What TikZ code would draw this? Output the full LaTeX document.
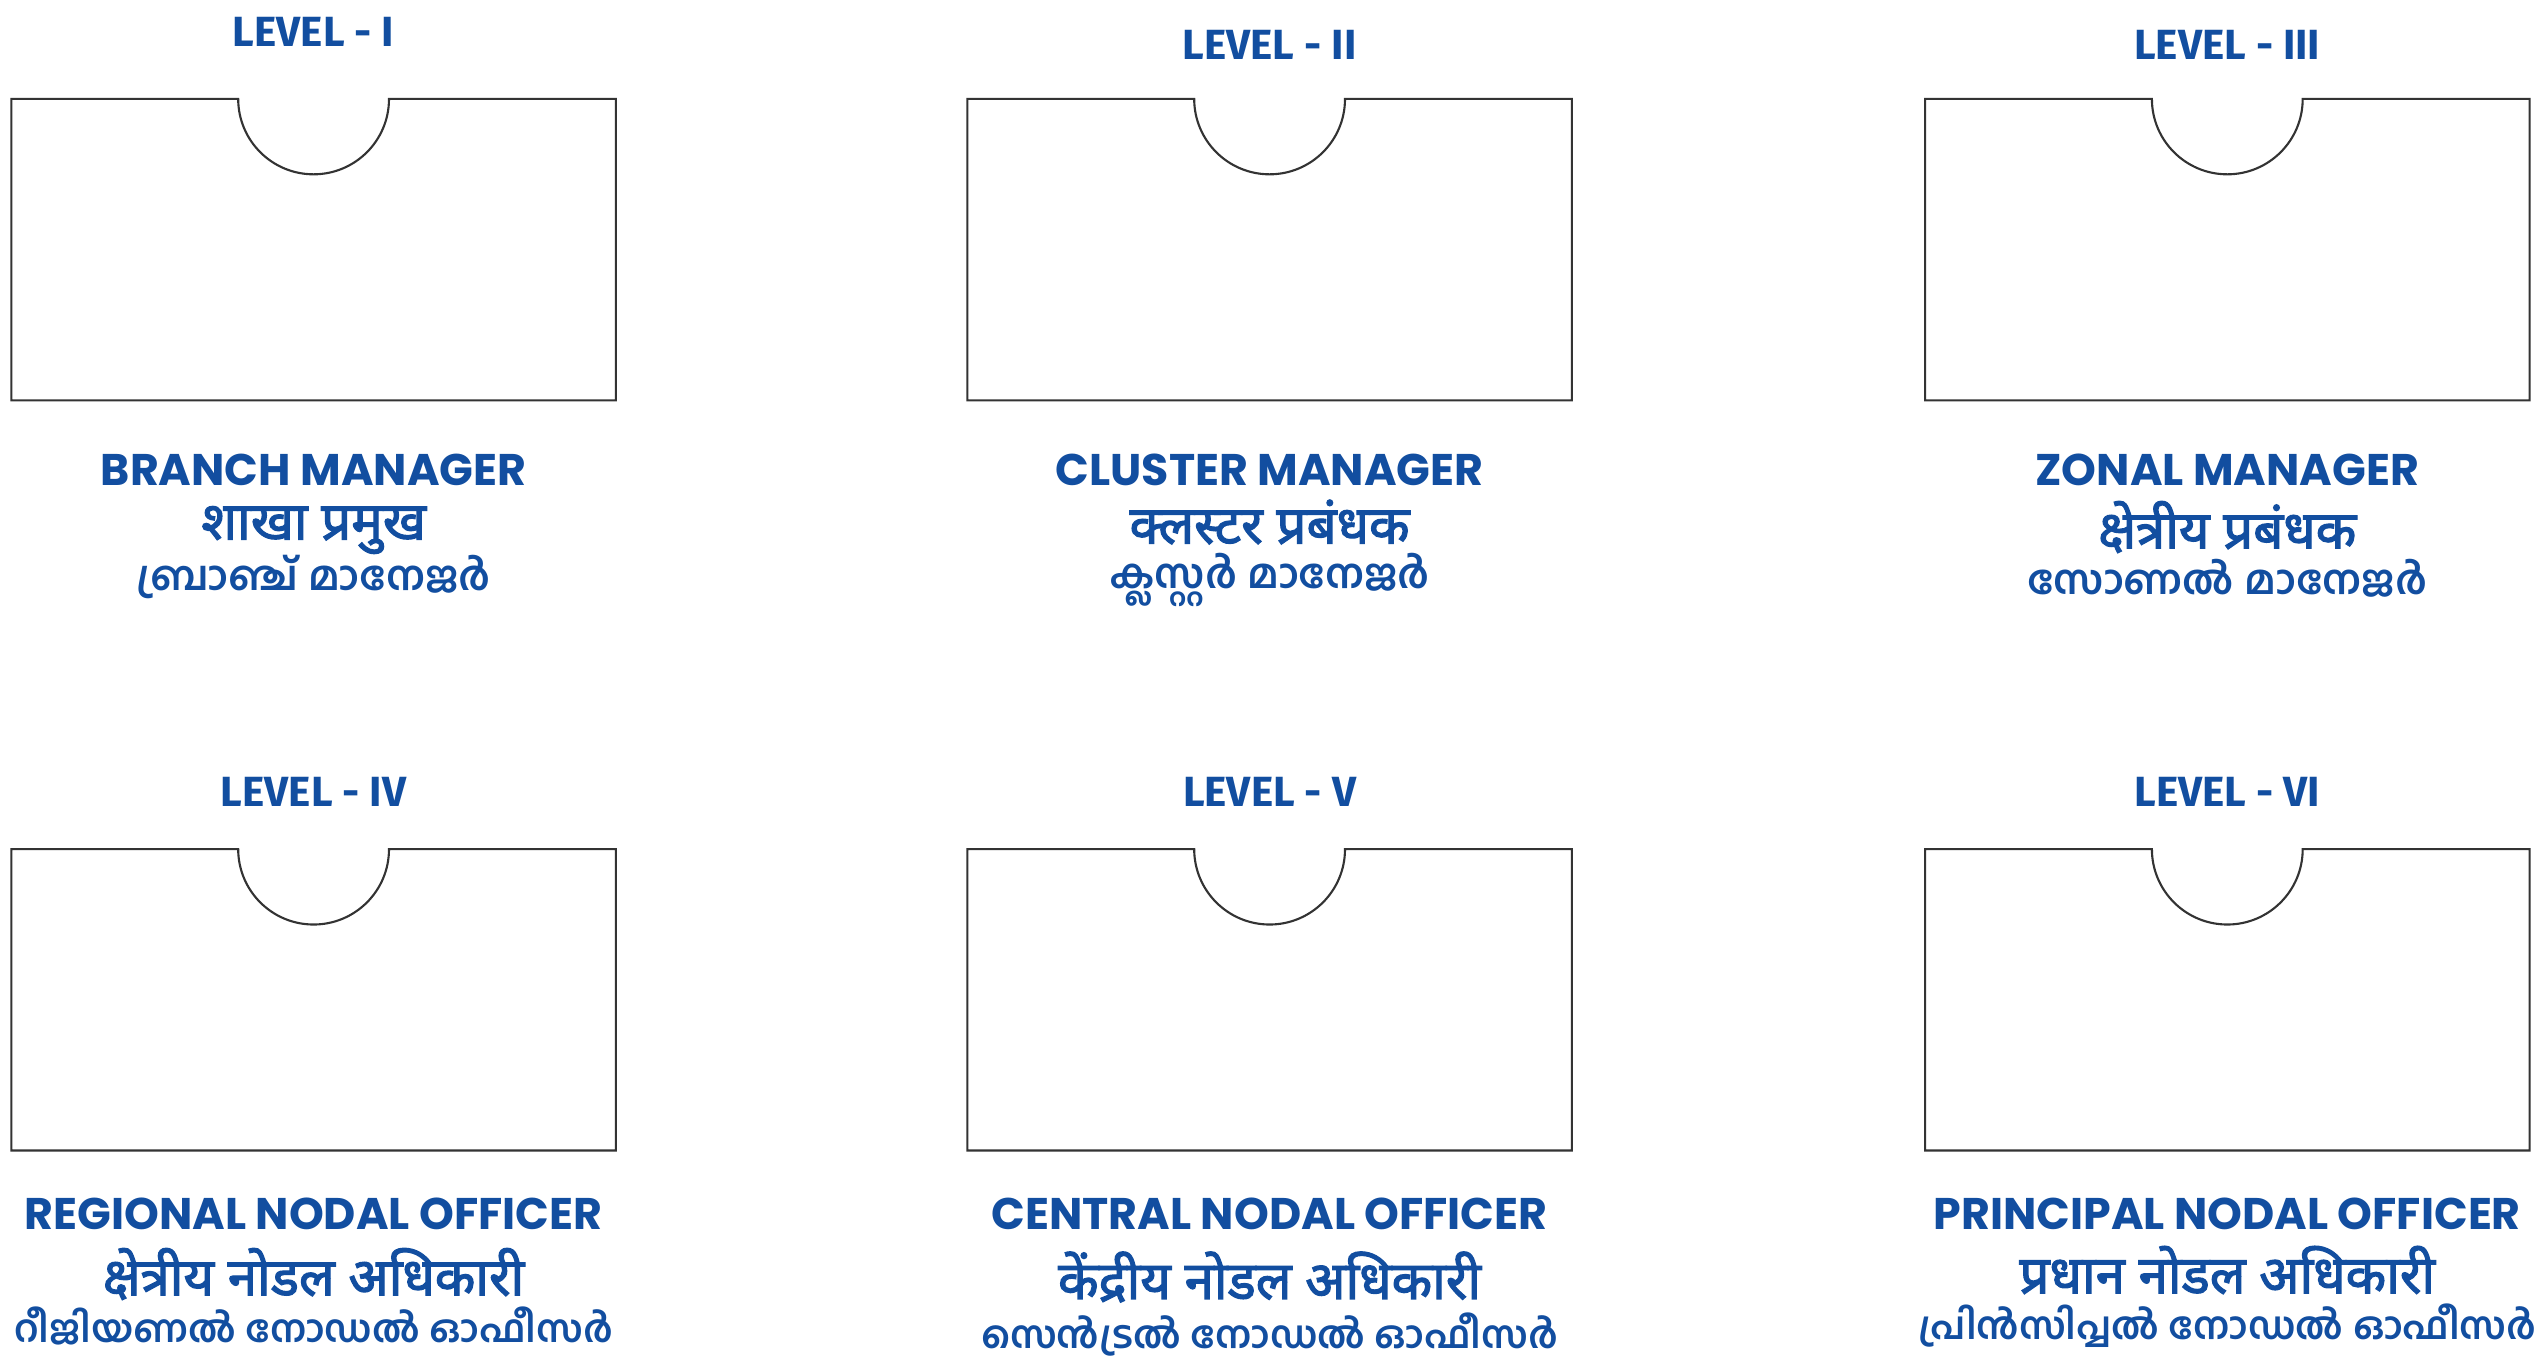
\documentclass[tikz,border=0pt]{standalone}
\usepackage{fontspec}
\setmainfont{Poppins}
\newfontfamily\levelfont{Fira Sans}
\newfontfamily\hindifont[Script=Devanagari,FakeBold=2.2]{Noto Sans}
\newfontfamily\malfont[Script=Malayalam]{Hind Kochi}
\definecolor{titleblue}{HTML}{124EA0}

\begin{document}
\begin{tikzpicture}[x=0.01cm,y=-0.01cm,
        card/.pic={\draw[line width=0.6pt, draw=black!80]
            (-302.25,0) -- (-75.4,0) arc (180:0:75.4) -- (302.25,0)
            -- (302.25,301.4) -- (-302.25,301.4) -- cycle;},
        level/.style={font=\levelfont\bfseries\fontsize{12}{14}\selectfont, text=titleblue},
        english/.style={font=\bfseries\fontsize{12.6}{15}\selectfont, text=titleblue},
        hindi/.style={font=\hindifont\fontsize{15}{17}\selectfont, text=titleblue},
        malay/.style={font=\malfont\bfseries\fontsize{11.6}{14}\selectfont, text=titleblue, inner sep=0pt},
        malaylong/.style={font=\malfont\bfseries\fontsize{10.8}{13}\selectfont, text=titleblue, inner sep=0pt}
    ]
    \useasboundingbox (0,0) rectangle (2541,1365);

    % Primera fila
    \node[level] (lvl1) at (313.6,32) {LEVEL - I};
    \node[level] (lvl2) at (1269.6,45) {LEVEL - II};
    \node[level] (lvl3) at (2227.3,45) {LEVEL - III};
    \pic (card1) at (313.6,98.9) {card};
    \pic (card2) at (1269.6,98.9) {card};
    \pic (card3) at (2227.3,98.9) {card};

    \node[english] (en1) at (313.6,470) {BRANCH MANAGER};
    \node[hindi] (hi1) at (313.6,530) {शाखा प्रमुख};
    \node[malay] (ml1) at (313.6,577) {ബ്രാഞ്ച് മാനേജർ};
    \node[english] (en2) at (1269.6,470) {CLUSTER MANAGER};
    \node[hindi] (hi2) at (1269.6,522) {क्लस्टर प्रबंधक};
    \node[malay] (ml2) at (1269.6,580) {ക്ലസ്റ്റർ മാനേജർ};
    \node[english] (en3) at (2227.3,470) {ZONAL MANAGER};
    \node[hindi] (hi3) at (2227.3,527) {क्षेत्रीय प्रबंधक};
    \node[malay] (ml3) at (2227.3,578) {സോണൽ മാനേജർ};

    % Segunda fila
    \node[level] (lvl4) at (313.6,792) {LEVEL - IV};
    \node[level] (lvl5) at (1269.6,792) {LEVEL - V};
    \node[level] (lvl6) at (2227.3,792) {LEVEL - VI};
    \pic (card4) at (313.6,849.1) {card};
    \pic (card5) at (1269.6,849.1) {card};
    \pic (card6) at (2227.3,849.1) {card};

    \node[english] (en4) at (313.6,1214) {REGIONAL NODAL OFFICER};
    \node[hindi] (hi4) at (313.6,1274) {क्षेत्रीय नोडल अधिकारी};
    \node[malaylong] (ml4) at (313.6,1326) {റീജിയണൽ നോഡൽ ഓഫീസർ};
    \node[english] (en5) at (1269.6,1214) {CENTRAL NODAL OFFICER};
    \node[hindi] (hi5) at (1269.6,1277) {केंद्रीय नोडल अधिकारी};
    \node[malaylong] (ml5) at (1269.6,1335) {സെൻട്രൽ നോഡൽ ഓഫീസർ};
    \node[english] (en6) at (2227.3,1214) {PRINCIPAL NODAL OFFICER};
    \node[hindi] (hi6) at (2227.3,1270) {प्रधान नोडल अधिकारी};
    \node[malaylong] (ml6) at (2227.3,1326) {പ്രിൻസിപ്പൽ നോഡൽ ഓഫീസർ};

\end{tikzpicture}
\end{document}
